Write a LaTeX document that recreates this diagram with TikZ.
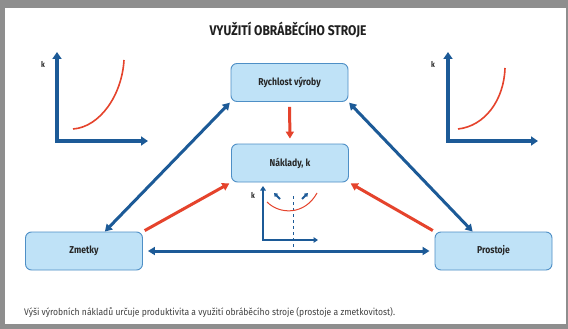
\documentclass[tikz,border=0pt]{standalone}
\usepackage{fontspec}
\setmainfont{Fira Sans}
\newfontfamily\cond[FakeStretch=0.86]{Fira Sans}
\newfontfamily\capfont[FakeStretch=0.9]{Fira Sans}
\usetikzlibrary{arrows.meta,calc}
\definecolor{dblue}{HTML}{1C5A97}
\definecolor{rred}{HTML}{E5432C}
\definecolor{boxfill}{HTML}{BFE2F7}
\definecolor{boxline}{HTML}{4E8FC6}
\definecolor{framegray}{HTML}{8E8E8E}
\begin{document}
\begin{tikzpicture}[x=1pt,y=-1pt,
  box/.style={draw=boxline, line width=0.9pt, fill=boxfill, rounded corners=6pt,
    minimum width=117pt, minimum height=38pt,
    font=\cond\bfseries\fontsize{10}{12}\selectfont, text=black!85},
  barrow/.style={draw=dblue, line width=3pt,
    {Triangle[length=7pt,width=8pt]}-{Triangle[length=7pt,width=8pt]}},
  rarrow/.style={draw=rred, line width=3pt, -{Triangle[length=7pt,width=8pt]}},
  bigaxis/.style={draw=dblue, line width=3.5pt, line join=miter,
    {Triangle[length=7pt,width=9pt]}-{Triangle[length=7pt,width=9pt]}},
  smallaxis/.style={draw=dblue, line width=2pt, line join=miter,
    {Triangle[length=4.5pt,width=5.5pt]}-{Triangle[length=4.5pt,width=5.5pt]}},
  curve/.style={draw=rred, line width=1.6pt},
  klabel/.style={font=\cond\bfseries\fontsize{8}{9}\selectfont, text=black!85}
]
\useasboundingbox (0,0) rectangle (568,329);
\fill[framegray] (0,0) rectangle (568,329);
\fill[white] (5,8) rectangle (566,324);

% title
\node[font=\cond\bfseries\fontsize{14}{16}\selectfont, text=black!88] (title) at (288,30) {VYUŽITÍ OBRÁBĚCÍHO STROJE};

% boxes
\node[box] (ry) at (289.5,82.5) {Rychlost výroby};
\node[box] (nk) at (290,163) {Náklady, k};
\node[box] (zm) at (84,251) {Zmetky};
\node[box] (pr) at (493.5,251) {Prostoje};

% blue connectors
\draw[barrow, shorten <=1pt] (ry.south west) -- (zm.43);
\draw[barrow, shorten <=1pt] (ry.south east) -- (pr.137);
\draw[barrow, shorten <=5pt, shorten >=5pt] (zm.east) -- (pr.west);

% red connectors
\draw[rarrow, shorten <=5pt, shorten >=5pt] (ry.south) -- (nk.north);
\draw[rarrow, shorten <=2pt, shorten >=2pt] (zm.north east) -- (nk.south west);
\draw[rarrow, shorten <=2pt, shorten >=2pt] (pr.north west) -- (nk.south east);

% left graph
\draw[bigaxis] (57,52) -- (57,141) -- (148,141);
\node[klabel] (kl) at (43,64) {k};
\draw[curve] (73,129) .. controls (100,127) and (122,95) .. (124,60);

% right graph
\draw[bigaxis] (448,52) -- (448,141) -- (538,141);
\node[klabel] (kr) at (433,64) {k};
\draw[curve] (458,129) .. controls (485,126) and (504,100) .. (505,68);

% small graph
\draw[dblue, dashed, line width=0.6pt] (293,196) -- (293,250);
\draw[smallaxis] (263,186) -- (263,240) -- (318,240);
\node[klabel] (ks) at (253,195) {k};
\draw[rred, line width=1pt] (267,202) .. controls (280,215) and (305,215) .. (317,193);
\draw[dblue, line width=1.8pt, -{Triangle[length=3.5pt,width=4.5pt]}] (280,199) -- (274,193);
\draw[dblue, line width=1.8pt, -{Triangle[length=3.5pt,width=4.5pt]}] (302,199) -- (308,193);

% caption
\node[anchor=west, font=\capfont\fontsize{9.5}{11}\selectfont, text=black!75, inner sep=0pt] (cap) at (24,312) {Výši výrobních nákladů určuje produktivita a využití obráběcího stroje (prostoje a zmetkovitost).};
\end{tikzpicture}
\end{document}
